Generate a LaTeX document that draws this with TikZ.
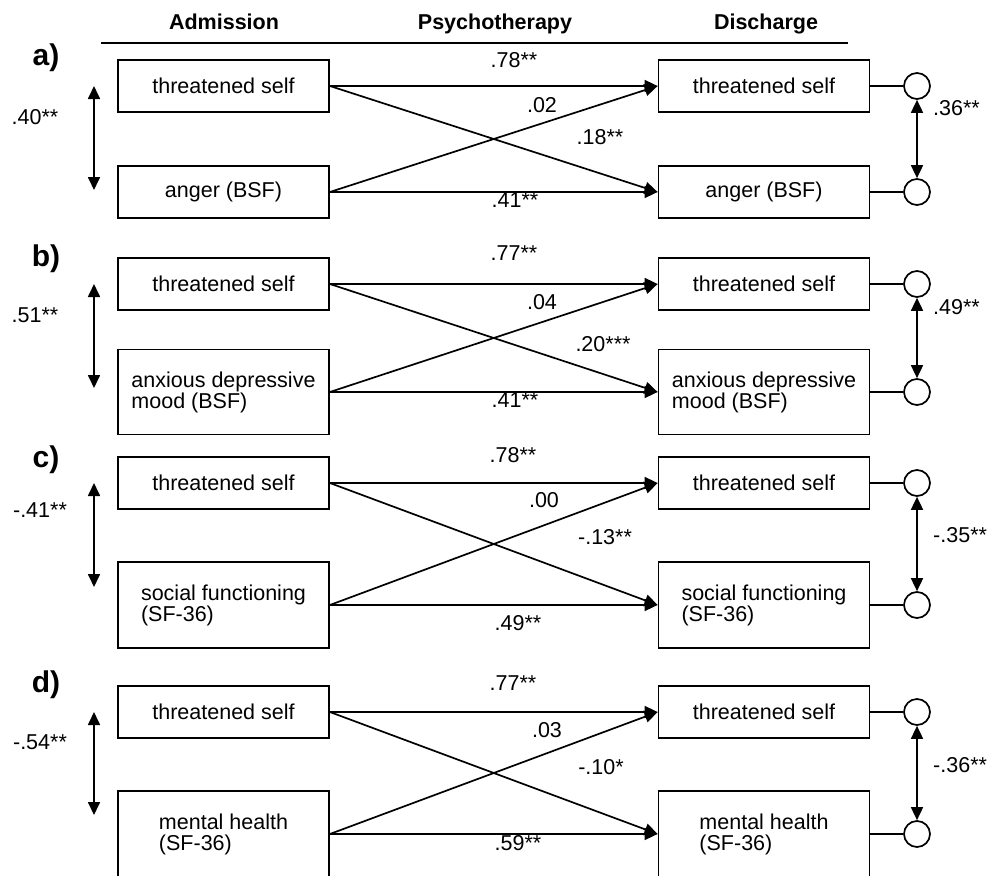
\documentclass[tikz,border=0pt]{standalone}
\usepackage{fontspec}
\setmainfont{Liberation Sans}
\usetikzlibrary{arrows.meta}
\begin{document}
\begin{tikzpicture}[x=1pt,y=-1pt,
  every node/.style={font=\fontsize{21.5pt}{21pt}\selectfont, inner sep=0pt},
  varbox/.style={draw, line width=1.8pt, minimum width=211pt, align=left},
  lat/.style={circle, draw, line width=1.7pt, minimum size=26pt},
  effect/.style={line width=1.7pt, -{Triangle[length=13pt,width=12pt]}},
  corr/.style={line width=1.7pt, {Triangle[length=13pt,width=12pt]}-{Triangle[length=13pt,width=12pt]}},
  link/.style={line width=1.7pt},
  coef/.style={text height=15.4pt, text depth=0pt},
  coefr/.style={coef, anchor=west},
  head/.style={font=\bfseries\fontsize{21.5pt}{21pt}\selectfont, anchor=base},
  panel/.style={font=\bfseries\fontsize{30pt}{30pt}\selectfont, anchor=base}
]
\path[use as bounding box] (0,0) rectangle (998,875);
\clip (0,0) rectangle (998,875);

% header
\node[head] (h1) at (224,30) {Admission};
\node[head] (h2) at (495,30) {Psychotherapy};
\node[head] (h3) at (766,30) {Discharge};
\coordinate (hl1) at (101,43);
\coordinate (hl2) at (848,43);
\draw[link] (hl1) -- (hl2);

% ---------------- panel a
\node[panel] (pa) at (46,66) {a)};
\node[varbox, minimum height=52pt] (a1) at (223.5,86) {threatened self};
\node[varbox, minimum height=52pt] (a2) at (223.5,192) {anger (BSF)};
\node[varbox, minimum height=52pt] (a3) at (764,86) {threatened self};
\node[varbox, minimum height=52pt] (a4) at (764,192) {anger (BSF)};
\node[lat] (ac1) at (917,86) {};
\node[lat] (ac2) at (917,192) {};
\draw[link] (a3.east) -- (ac1.west);
\draw[link] (a4.east) -- (ac2.west);
\draw[corr] (ac1.south) -- (ac2.north);
\coordinate (al1) at (94,86);
\coordinate (al2) at (94,190);
\draw[corr] (al1) -- (al2);
\draw[effect] (a1.east) -- (a3.west);
\draw[effect] (a1.east) -- (a4.west);
\draw[effect] (a2.east) -- (a3.west);
\draw[effect] (a2.east) -- (a4.west);
\node[coef] (ka1) at (35,117) {.40**};
\node[coef] (ka2) at (514,60) {.78**};
\node[coef] (ka3) at (542,105) {.02};
\node[coef] (ka4) at (600,137) {.18**};
\node[coef] (ka5) at (515,200) {.41**};
\node[coefr] (ka6) at (933,108) {.36**};

% ---------------- panel b
\node[panel] (pb) at (46,266) {b)};
\node[varbox, minimum height=52pt] (b1) at (223.5,284) {threatened self};
\node[varbox, minimum height=85pt] (b2) at (223.5,392) {anxious depressive\\mood (BSF)};
\node[varbox, minimum height=52pt] (b3) at (764,284) {threatened self};
\node[varbox, minimum height=85pt] (b4) at (764,392) {anxious depressive\\mood (BSF)};
\node[lat] (bc1) at (917,284) {};
\node[lat] (bc2) at (917,392) {};
\draw[link] (b3.east) -- (bc1.west);
\draw[link] (b4.east) -- (bc2.west);
\draw[corr] (bc1.south) -- (bc2.north);
\coordinate (bl1) at (94,284);
\coordinate (bl2) at (94,388);
\draw[corr] (bl1) -- (bl2);
\draw[effect] (b1.east) -- (b3.west);
\draw[effect] (b1.east) -- (b4.west);
\draw[effect] (b2.east) -- (b3.west);
\draw[effect] (b2.east) -- (b4.west);
\node[coef] (kb1) at (35,315) {.51**};
\node[coef] (kb2) at (514,253) {.77**};
\node[coef] (kb3) at (542,302) {.04};
\node[coef] (kb4) at (603,344) {.20***};
\node[coef] (kb5) at (515,400) {.41**};
\node[coefr] (kb6) at (933,307) {.49**};

% ---------------- panel c
\node[panel] (pc) at (46,467) {c)};
\node[varbox, minimum height=52pt] (c1) at (223.5,483) {threatened self};
\node[varbox, minimum height=86pt] (c2) at (223.5,605) {social functioning\\(SF-36)};
\node[varbox, minimum height=52pt] (c3) at (764,483) {threatened self};
\node[varbox, minimum height=86pt] (c4) at (764,605) {social functioning\\(SF-36)};
\node[lat] (cc1) at (917,483) {};
\node[lat] (cc2) at (917,605) {};
\draw[link] (c3.east) -- (cc1.west);
\draw[link] (c4.east) -- (cc2.west);
\draw[corr] (cc1.south) -- (cc2.north);
\coordinate (cl1) at (94,483);
\coordinate (cl2) at (94,587);
\draw[corr] (cl1) -- (cl2);
\draw[effect] (c1.east) -- (c3.west);
\draw[effect] (c1.east) -- (c4.west);
\draw[effect] (c2.east) -- (c3.west);
\draw[effect] (c2.east) -- (c4.west);
\node[coef] (kc1) at (40,510) {-.41**};
\node[coef] (kc2) at (513,455) {.78**};
\node[coef] (kc3) at (544,500) {.00};
\node[coef] (kc4) at (605,537) {-.13**};
\node[coef] (kc5) at (518,623) {.49**};
\node[coefr] (kc6) at (933,535) {-.35**};

% ---------------- panel d
\node[panel] (pd) at (46,692) {d)};
\node[varbox, minimum height=52pt] (d1) at (223.5,712) {threatened self};
\node[varbox, minimum height=86pt] (d2) at (223.5,834) {mental health\\(SF-36)};
\node[varbox, minimum height=52pt] (d3) at (764,712) {threatened self};
\node[varbox, minimum height=86pt] (d4) at (764,834) {mental health\\(SF-36)};
\node[lat] (dc1) at (917,712) {};
\node[lat] (dc2) at (917,834) {};
\draw[link] (d3.east) -- (dc1.west);
\draw[link] (d4.east) -- (dc2.west);
\draw[corr] (dc1.south) -- (dc2.north);
\coordinate (dl1) at (94,712);
\coordinate (dl2) at (94,815);
\draw[corr] (dl1) -- (dl2);
\draw[effect] (d1.east) -- (d3.west);
\draw[effect] (d1.east) -- (d4.west);
\draw[effect] (d2.east) -- (d3.west);
\draw[effect] (d2.east) -- (d4.west);
\node[coef] (kd1) at (40,742) {-.54**};
\node[coef] (kd2) at (513,683) {.77**};
\node[coef] (kd3) at (547,730) {.03};
\node[coef] (kd4) at (601,767) {-.10*};
\node[coef] (kd5) at (518,843) {.59**};
\node[coefr] (kd6) at (933,765) {-.36**};
\end{tikzpicture}
\end{document}
